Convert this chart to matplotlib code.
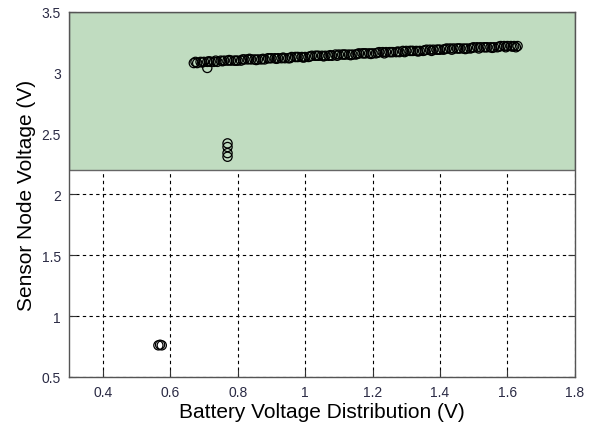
import matplotlib
matplotlib.use("Agg")
import matplotlib.pyplot as plt

# main cluster
band_x = [0.67, 0.68, 0.69, 0.70, 0.71, 0.72, 0.73, 0.74, 0.75, 0.76,
          0.77, 0.78, 0.79, 0.80, 0.81, 0.82, 0.83, 0.84, 0.85, 0.86,
          0.87, 0.88, 0.89, 0.90, 0.91, 0.92, 0.93, 0.94, 0.95, 0.96,
          0.97, 0.98, 0.99, 1.00, 1.01, 1.02, 1.03, 1.04, 1.05, 1.06,
          1.07, 1.08, 1.09, 1.10, 1.11, 1.12, 1.13, 1.14, 1.15, 1.16,
          1.17, 1.18, 1.19, 1.20, 1.21, 1.22, 1.23, 1.24, 1.25, 1.26,
          1.27, 1.28, 1.29, 1.30, 1.31, 1.32, 1.33, 1.34, 1.35, 1.36,
          1.37, 1.38, 1.39, 1.40, 1.41, 1.42, 1.43, 1.44, 1.45, 1.46,
          1.47, 1.48, 1.49, 1.50, 1.51, 1.52, 1.53, 1.54, 1.55, 1.56,
          1.57, 1.58, 1.59, 1.60, 1.61, 1.62, 1.63]
band_y = [3.08, 3.08, 3.09, 3.09, 3.09, 3.09, 3.09, 3.09, 3.10, 3.10,
          3.10, 3.10, 3.10, 3.10, 3.10, 3.11, 3.11, 3.11, 3.11, 3.11,
          3.11, 3.11, 3.12, 3.12, 3.12, 3.12, 3.12, 3.12, 3.12, 3.13,
          3.13, 3.13, 3.13, 3.13, 3.13, 3.14, 3.14, 3.14, 3.14, 3.14,
          3.14, 3.14, 3.15, 3.15, 3.15, 3.15, 3.15, 3.15, 3.15, 3.16,
          3.16, 3.16, 3.16, 3.16, 3.16, 3.17, 3.17, 3.17, 3.17, 3.17,
          3.17, 3.17, 3.18, 3.18, 3.18, 3.18, 3.18, 3.18, 3.18, 3.19,
          3.19, 3.19, 3.19, 3.19, 3.19, 3.20, 3.20, 3.20, 3.20, 3.20,
          3.20, 3.20, 3.20, 3.21, 3.21, 3.21, 3.21, 3.21, 3.21, 3.21,
          3.21, 3.22, 3.22, 3.22, 3.22, 3.22, 3.22]

# in-between readings that thicken the band
fill_x = [0.675, 0.695, 0.715, 0.735, 0.755, 0.775, 0.795, 0.815, 0.835, 0.855,
          0.875, 0.895, 0.915, 0.935, 0.955, 0.975, 0.995, 1.015, 1.035, 1.055,
          1.075, 1.095, 1.115, 1.135, 1.155, 1.175, 1.195, 1.215, 1.235, 1.255,
          1.275, 1.295, 1.315, 1.335, 1.355, 1.375, 1.395, 1.415, 1.435, 1.455,
          1.475, 1.495, 1.515, 1.535, 1.555, 1.575, 1.595, 1.615, 1.625]
fill_y = [3.09, 3.085, 3.095, 3.1, 3.095, 3.105, 3.1, 3.11, 3.115, 3.105,
          3.115, 3.12, 3.115, 3.125, 3.12, 3.13, 3.125, 3.135, 3.14, 3.135,
          3.145, 3.14, 3.15, 3.145, 3.155, 3.16, 3.155, 3.165, 3.16, 3.17,
          3.175, 3.17, 3.18, 3.175, 3.185, 3.18, 3.19, 3.195, 3.19, 3.2,
          3.195, 3.205, 3.2, 3.21, 3.205, 3.215, 3.21, 3.215, 3.21]

# outliers
odd_x = [0.71, 0.77, 0.77, 0.77, 0.77, 0.565, 0.57, 0.575]
odd_y = [3.04, 2.31, 2.34, 2.39, 2.42, 0.76, 0.765, 0.76]

xticks = [0.4, 0.6, 0.8, 1.0, 1.2, 1.4, 1.6, 1.8]
xlabels = ["0.4", "0.6", "0.8", "1", "1.2", "1.4", "1.6", "1.8"]
yticks = [0.5, 1.0, 1.5, 2.0, 2.5, 3.0, 3.5]
ylabels = ["0.5", "1", "1.5", "2", "2.5", "3", "3.5"]

plt.rcParams["font.family"] = ["Liberation Sans", "DejaVu Sans"]

fig = plt.figure(figsize=(5.97, 4.27), dpi=100)
ax = fig.add_axes([0.1156, 0.1148, 0.8474, 0.8548])

ax.set_axisbelow(True)
ax.grid(True, color="black", linestyle=(0, (3, 3)), linewidth=0.8)
ax.axhspan(2.2, 3.5, facecolor="#c0dcc0", edgecolor="#666666", linewidth=1.0, zorder=1)

for xs, ys in [(band_x, band_y), (fill_x, fill_y), (odd_x, odd_y)]:
    ax.scatter(xs, ys, s=44, facecolors="none", edgecolors="black", linewidths=0.9, zorder=3)

ax.set_xlim(0.3, 1.8)
ax.set_ylim(0.5, 3.5)
ax.set_xticks(xticks)
ax.set_xticklabels(xlabels)
ax.set_yticks(yticks)
ax.set_yticklabels(ylabels)
ax.tick_params(direction="in", length=5, width=0.8, top=True, right=True,
               labelsize=10, labelcolor="#2a2a44", color="#333333", pad=6)
for s in ax.spines.values():
    s.set_color("#555555")
    s.set_linewidth(1.0)

ax.set_xlabel("Battery Voltage Distribution (V)", fontsize=15, labelpad=2)
ax.set_ylabel("Sensor Node Voltage (V)", fontsize=15, labelpad=4)

fig.savefig("out.png", dpi=100)
